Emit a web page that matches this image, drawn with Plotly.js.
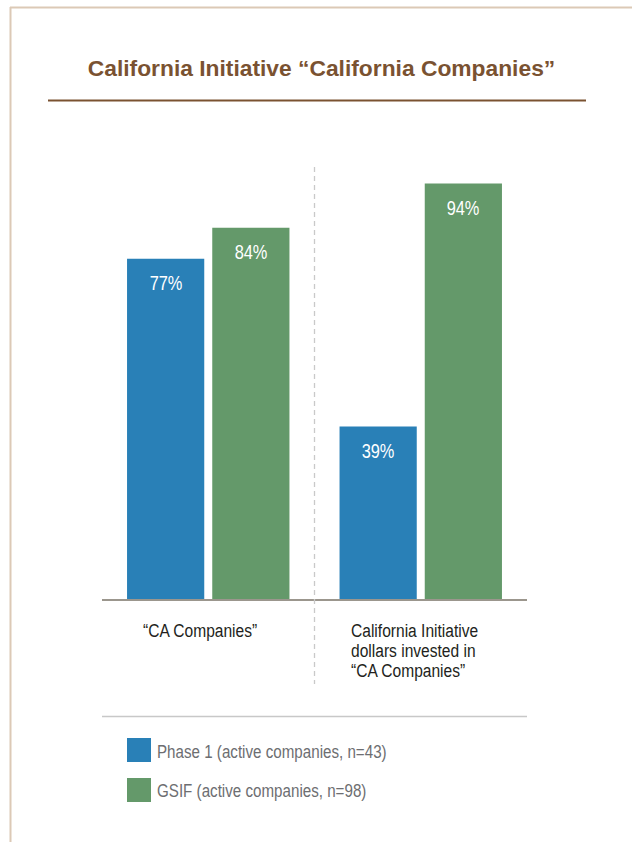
<!DOCTYPE html>
<html>
<head>
<meta charset="utf-8">
<script src="https://cdn.plot.ly/plotly-3.0.1.min.js"></script>
<style>
html,body{margin:0;padding:0;background:#fff;}
#chart{width:632px;height:842px;}
</style>
</head>
<body>
<div id="chart"></div>
<script>
// ---- data ----
const categories = ["CA Companies", "CA Initiative dollars"];
const categoryLabels = ["“CA Companies”", "California Initiative<br>dollars invested in<br>“CA Companies”"];
const seriesNames = ["Phase 1 (active companies, n=43)", "GSIF (active companies, n=98)"];
const phase1Values = [77, 39];
const gsifValues = [84, 94];
const chartTitle = "California Initiative “California Companies”";

// ---- styling ----
const W = 632, H = 842;
const px = v => v / W;          // x pixel -> paper
const py = v => 1 - v / H;      // y pixel -> paper
const sans = '"Liberation Sans", Arial, sans-serif';
const blue = '#2980b7';
const green = '#64996a';
const brown = '#7a5231';
const NARROW = 0.82;            // horizontal condensing of body text

const traces = [
  {type: 'bar', name: seriesNames[0], x: categories, y: phase1Values,
   marker: {color: blue}, hoverinfo: 'none', showlegend: false},
  {type: 'bar', name: seriesNames[1], x: categories, y: gsifValues,
   marker: {color: green}, hoverinfo: 'none', showlegend: false}
];

const annotations = [];
// value labels inside bars
[phase1Values, gsifValues].forEach((vals, s) => {
  vals.forEach((v, i) => {
    annotations.push({
      xref: 'x', yref: 'y', x: categories[i], y: v,
      xshift: s === 0 ? -42.5 : 42.5, yshift: -24,
      text: v + '%', showarrow: false, xanchor: 'center', yanchor: 'middle',
      font: {family: sans, size: 20, color: '#ffffff'}
    });
  });
});
// category labels (left aligned, 20px line spacing)
const labelLeft = [141, 349];
const labelMid = 630, lineStep = 20;
categoryLabels.forEach((t, i) => {
  t.split('<br>').forEach((line, j) => {
    annotations.push({
      xref: 'paper', yref: 'paper', x: px(labelLeft[i]), y: py(labelMid + j * lineStep),
      text: line, showarrow: false, xanchor: 'left', yanchor: 'middle', align: 'left',
      font: {family: sans, size: 19, color: '#231f20'}
    });
  });
});
// legend text
const legendY = [751, 790.5];
seriesNames.forEach((t, i) => {
  annotations.push({
    xref: 'paper', yref: 'paper', x: px(155), y: py(legendY[i]),
    text: t, showarrow: false, xanchor: 'left', yanchor: 'middle', align: 'left',
    font: {family: sans, size: 18.5, color: '#6d6e71'}
  });
});

const shapes = [
  // outer frame
  {type: 'line', xref: 'paper', yref: 'paper', x0: px(10), x1: 1, y0: py(7.5), y1: py(7.5),
   line: {color: '#dcc9b6', width: 2}},
  {type: 'line', xref: 'paper', yref: 'paper', x0: px(10.5), x1: px(10.5), y0: py(7), y1: 0,
   line: {color: '#dcc9b6', width: 2}},
  // title underline
  {type: 'line', xref: 'paper', yref: 'paper', x0: px(48), x1: px(586), y0: py(100.5), y1: py(100.5),
   line: {color: brown, width: 2}},
  // dashed separator
  {type: 'line', xref: 'paper', yref: 'paper', x0: px(314.5), x1: px(314.5), y0: py(167), y1: py(684),
   line: {color: '#c9c9c9', width: 1.3, dash: '5px,4px'}},
  // legend separator
  {type: 'line', xref: 'paper', yref: 'paper', x0: px(102), x1: px(527), y0: py(716.5), y1: py(716.5),
   line: {color: '#c8c8c8', width: 1.5}},
  // legend swatches
  {type: 'rect', xref: 'paper', yref: 'paper', x0: px(127), x1: px(151), y0: py(738), y1: py(762),
   line: {width: 0}, fillcolor: blue},
  {type: 'rect', xref: 'paper', yref: 'paper', x0: px(127), x1: px(151), y0: py(778), y1: py(802),
   line: {width: 0}, fillcolor: green}
];

const layout = {
  width: W, height: H,
  margin: {l: 0, r: 0, t: 0, b: 0},
  paper_bgcolor: '#ffffff', plot_bgcolor: 'rgba(0,0,0,0)',
  title: {text: chartTitle, x: px(321.5), xanchor: 'center', y: py(68), yanchor: 'middle',
          xref: 'paper', yref: 'paper',
          font: {family: sans, size: 22.8, color: brown, weight: 'bold'}},
  barmode: 'group', bargap: 0.198, bargroupgap: 0.094,
  xaxis: {domain: [px(102), px(527)], range: [-0.5, 1.5], type: 'category',
          showticklabels: false, ticks: '', showgrid: false, zeroline: false,
          showline: true, linecolor: '#9b968d', linewidth: 2, fixedrange: true},
  yaxis: {domain: [py(599), py(157)], range: [0, 100], showticklabels: false, ticks: '',
          showgrid: false, zeroline: false, showline: false, fixedrange: true},
  showlegend: false,
  annotations: annotations,
  shapes: shapes
};

const gd = document.getElementById('chart');
Plotly.newPlot(gd, traces, layout, {displayModeBar: false, staticPlot: true}).then(() => {
  // condense annotation text horizontally (the original uses a condensed face)
  gd.querySelectorAll('g.annotation').forEach(g => {
    const idx = +g.getAttribute('data-index');
    const ann = layout.annotations[idx];
    const t = g.querySelector('text.annotation-text');
    if (!t || !ann) return;
    const bb = t.getBBox();
    const cx = ann.xanchor === 'left' ? bb.x : bb.x + bb.width / 2;
    t.setAttribute('transform', `translate(${cx},0) scale(${NARROW},1) translate(${-cx},0)`);
  });
});
</script>
</body>
</html>
